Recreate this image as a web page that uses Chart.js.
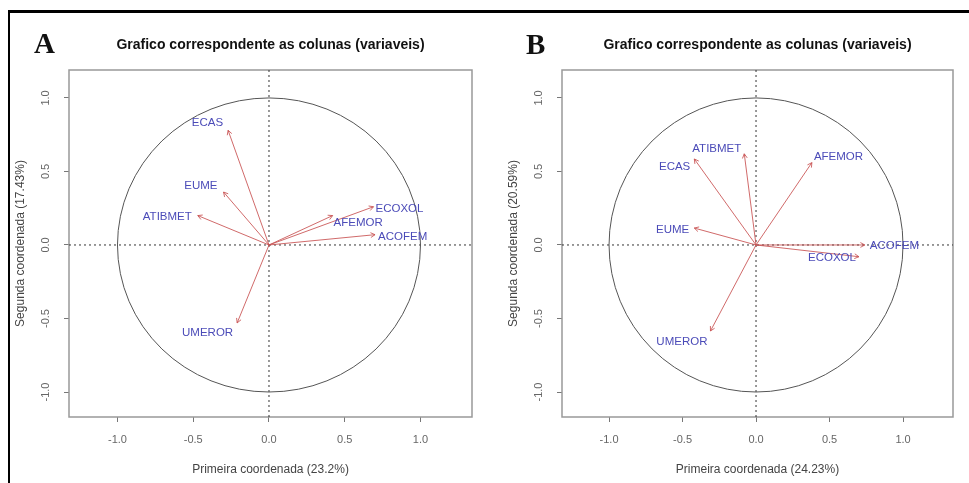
<!DOCTYPE html>
<html>
<head>
<meta charset="utf-8">
<script src="https://cdn.jsdelivr.net/npm/chart.js@4"></script>
<style>
  body { margin: 0; background: #fff; }
  #wrap { position: relative; width: 969px; height: 483px; overflow: hidden; background: #fff; }
  #wrap .frame { position: absolute; left: 8px; top: 10px; width: 961px; height: 473px; border-top: 3px solid #000; border-left: 2px solid #000; box-sizing: border-box; }
  .box { position: absolute; top: 0; height: 483px; }
  .letter { position: absolute; font-family: "Liberation Serif", "DejaVu Serif", serif; font-weight: bold; font-size: 29px; line-height: 29px; color: #111; }
</style>
</head>
<body>
<div id="wrap">
  <div class="frame"></div>
  <div class="box" style="left:0;width:484px"><canvas id="chart_a"></canvas></div>
  <div class="box" style="left:484px;width:485px"><canvas id="chart_b"></canvas></div>
  <div class="letter" style="left:34px;top:29px">A</div>
  <div class="letter" style="left:526px;top:30px">B</div>
</div>
<script>
const vars_a = ["ECAS", "EUME", "ATIBMET", "UMEROR", "ECOXOL", "AFEMOR", "ACOFEM"]
const x_a = [-0.27, -0.30, -0.47, -0.21, 0.69, 0.42, 0.70]
const y_a = [0.78, 0.36, 0.20, -0.53, 0.26, 0.20, 0.07]

const vars_b = ["ATIBMET", "ECAS", "AFEMOR", "EUME", "UMEROR", "ACOFEM", "ECOXOL"]
const x_b = [-0.08, -0.42, 0.38, -0.42, -0.31, 0.74, 0.70]
const y_b = [0.62, 0.585, 0.56, 0.115, -0.585, 0.00, -0.08]

const tick_values = [-1, -0.5, 0, 0.5, 1]
const tick_labels = ["-1.0", "-0.5", "0.0", "0.5", "1.0"]

const title_text = "Grafico correspondente as colunas (variaveis)"
const x_title_a = "Primeira coordenada (23.2%)"
const y_title_a = "Segunda coordenada (17.43%)"
const x_title_b = "Primeira coordenada (24.23%)"
const y_title_b = "Segunda coordenada (20.59%)"

// label placement next to each arrow tip: [dx, dy, align]
const place_a = [[-5, -7, "right"], [-6, -6, "right"], [-6, 1, "right"], [-4, 10, "right"], [2, 2, "left"], [1, 7, "left"], [3, 2, "left"]]
const place_b = [[-3, -5, "right"], [-4, 8, "right"], [2, -6, "left"], [-5, 2, "right"], [-3, 11, "right"], [5, 1, "left"], [-3, 1, "right"]]

const font_family = "'Liberation Sans', Arial, sans-serif"
const arrow_color = "rgba(200, 80, 80, 0.85)"
const label_color = "#4b4bb8"

const circle_plugin = {
    id: "circle_plot",
    beforeDatasetsDraw(chart) {
        const {ctx, chartArea: area, scales: {x, y}} = chart
        const cx = x.getPixelForValue(0), cy = y.getPixelForValue(0)
        ctx.save()
        // frame
        ctx.strokeStyle = "#999"
        ctx.lineWidth = 1.5
        ctx.strokeRect(area.left, area.top, area.right - area.left, area.bottom - area.top)
        // dotted zero lines
        ctx.strokeStyle = "#333"
        ctx.lineWidth = 1
        ctx.setLineDash([2, 3])
        ctx.beginPath()
        ctx.moveTo(area.left, cy); ctx.lineTo(area.right, cy)
        ctx.moveTo(cx, area.top); ctx.lineTo(cx, area.bottom)
        ctx.stroke()
        ctx.setLineDash([])
        // unit circle
        ctx.strokeStyle = "#555"
        ctx.beginPath()
        ctx.ellipse(cx, cy, x.getPixelForValue(1) - cx, cy - y.getPixelForValue(1), 0, 0, Math.PI * 2)
        ctx.stroke()
        // y tick labels, rotated like R
        ctx.fillStyle = "#666"
        ctx.font = "11px " + font_family
        ctx.textAlign = "center"
        ctx.textBaseline = "middle"
        tick_values.forEach((v, i) => {
            ctx.save()
            ctx.translate(area.left - 23, y.getPixelForValue(v))
            ctx.rotate(-Math.PI / 2)
            ctx.fillText(tick_labels[i], 0, 0)
            ctx.restore()
        })
        ctx.restore()
    },
    afterDatasetsDraw(chart) {
        const {ctx} = chart
        const names = chart.options.plugins.circle_plot.names
        const place = chart.options.plugins.circle_plot.place
        ctx.save()
        chart.data.datasets.forEach((ds, i) => {
            const pts = chart.getDatasetMeta(i).data
            const p0 = pts[0], p1 = pts[1]
            const ang = Math.atan2(p1.y - p0.y, p1.x - p0.x)
            ctx.strokeStyle = arrow_color
            ctx.lineWidth = 1
            ctx.beginPath()
            ctx.moveTo(p1.x - 5 * Math.cos(ang - 0.5), p1.y - 5 * Math.sin(ang - 0.5))
            ctx.lineTo(p1.x, p1.y)
            ctx.lineTo(p1.x - 5 * Math.cos(ang + 0.5), p1.y - 5 * Math.sin(ang + 0.5))
            ctx.stroke()
            ctx.fillStyle = label_color
            ctx.font = "11.5px " + font_family
            ctx.textBaseline = "middle"
            ctx.textAlign = place[i][2]
            ctx.fillText(names[i], p1.x + place[i][0], p1.y + place[i][1])
        })
        ctx.restore()
    }
}

const make_chart = (id, names, xs, ys, place, x_title, y_title, pad) => {
    const datasets = names.map((name, i) => ({
        label: name,
        data: [{x: 0, y: 0}, {x: xs[i], y: ys[i]}],
        borderColor: arrow_color,
        borderWidth: 1,
        pointRadius: 0,
        showLine: true
    }))
    const tick_axis = (min, max) => ({
        type: "linear",
        min: min,
        max: max,
        afterBuildTicks: (scale) => { scale.ticks = tick_values.map((v) => ({value: v})) },
        grid: {drawOnChartArea: false, drawTicks: true, tickLength: 5, color: "#777"},
        border: {display: false}
    })
    const x_axis = tick_axis(-1.32, 1.34)
    x_axis.ticks = {
        color: "#666", padding: 11, font: {size: 11, family: font_family},
        maxRotation: 0, callback: (v) => tick_labels[tick_values.indexOf(v)]
    }
    x_axis.title = {display: true, text: x_title, color: "#444", padding: 0, font: {size: 12, family: font_family}}
    x_axis.afterFit = (scale) => { scale.height = 60 }
    const y_axis = tick_axis(-1.17, 1.19)
    y_axis.ticks = {display: false}
    y_axis.title = {display: true, text: y_title, color: "#444", padding: 0, font: {size: 12, family: font_family}}
    y_axis.afterFit = (scale) => { scale.width = 56 }

    return new Chart(document.getElementById(id), {
        type: "scatter",
        data: {datasets: datasets},
        options: {
            responsive: true,
            maintainAspectRatio: false,
            animation: false,
            layout: {padding: {left: pad[0], right: pad[1], top: 37, bottom: 6}},
            scales: {x: x_axis, y: y_axis},
            plugins: {
                legend: {display: false},
                tooltip: {enabled: false},
                title: {
                    display: true, text: title_text, fullSize: false, color: "#111",
                    font: {size: 14, weight: "bold", family: font_family},
                    padding: {top: 0, bottom: 16.2}
                },
                circle_plot: {names: names, place: place}
            }
        },
        plugins: [circle_plugin]
    })
}

make_chart("chart_a", vars_a, x_a, y_a, place_a, x_title_a, y_title_a, [13, 12])
make_chart("chart_b", vars_b, x_b, y_b, place_b, x_title_b, y_title_b, [22, 16])
</script>
</body>
</html>
